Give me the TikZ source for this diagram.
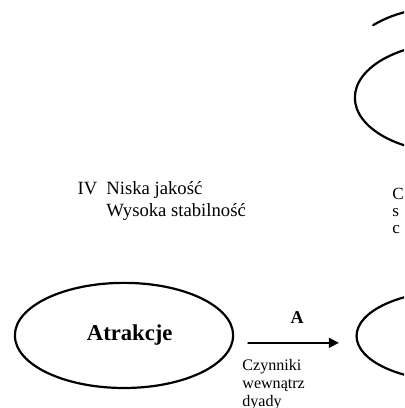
\documentclass[tikz,border=0pt]{standalone}
\usepackage{fontspec}
\setmainfont{Liberation Serif}
\usetikzlibrary{shapes.geometric,arrows.meta}

\begin{document}
\begin{tikzpicture}[line cap=round,line join=round,>={Stealth[length=5pt,width=5pt,inset=0pt]},every node/.style={inner sep=0pt},
  oval/.style={draw,ellipse,line width=1.1pt},
  smalltxt/.style={font=\fontsize{8}{9}\selectfont,align=left}]
  \useasboundingbox (0,0) rectangle (7.07,7.14);
  \clip (0,0) rectangle (7.07,7.14);
  \draw[line width=1.1pt] (6.53,6.70) .. controls (6.75,6.83) and (6.95,6.90) .. (7.25,6.97);
  \node[oval,minimum width=3.44cm,minimum height=1.92cm] (ovTop) at (7.93,5.43) {};
  \node[oval,minimum width=3.82cm,minimum height=1.84cm,font=\bfseries\fontsize{11.3}{13}\selectfont] (atr) at (2.17,1.27) {\hspace*{0.2cm}Atrakcje};
  \node[oval,minimum width=3.44cm,minimum height=1.58cm] (ovRight) at (7.96,1.26) {};
  \node[anchor=base west,font=\fontsize{9.3}{11}\selectfont] (iv) at (1.35,3.73) {IV};
  \node[anchor=base west,align=left,font=\fontsize{9.3}{11}\selectfont] (quality) at (1.855,3.345) {Niska jakość\\Wysoka stabilność};
  \node[anchor=base west,font=\fontsize{8.5}{8.3}\selectfont,align=left] (cut) at (6.86,3.06) {C\\s\\c};
  \draw[->,line width=0.7pt,shorten <=0.24cm,shorten >=0.29cm] ([yshift=-0.13cm]atr.east) -- ([yshift=-0.12cm]ovRight.west);
  \node[font=\bfseries\fontsize{9}{11}\selectfont] (lblA) at (5.20,1.59) {A};
  \node[anchor=base west,smalltxt] (inside) at (4.235,0.02) {Czynniki\\wewnątrz\\dyady};
\end{tikzpicture}
\end{document}
